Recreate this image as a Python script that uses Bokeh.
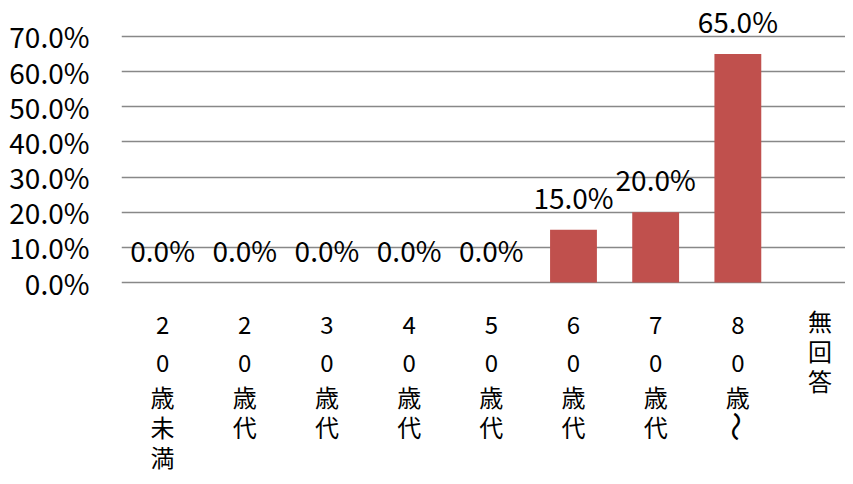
import math
from bokeh.plotting import figure
from bokeh.models import ColumnDataSource, Range1d, FixedTicker, PrintfTickFormatter
from bokeh.core.properties import value
from bokeh.embed import file_html
from bokeh.resources import INLINE

# ---- data ----
categories = ["20歳未満", "20歳代", "30歳代", "40歳代", "50歳代", "60歳代", "70歳代", "80歳〜", "無回答"]
percent = [0.0, 0.0, 0.0, 0.0, 0.0, 15.0, 20.0, 65.0, None]
y_ticks = [0, 10, 20, 30, 40, 50, 60, 70]

FONT = "Noto Sans CJK JP"
BAR_COLOR = "#C0504D"
GRID_COLOR = "#888888"

xs = [i + 0.5 for i in range(len(categories))]
tops = [v if v is not None else float("nan") for v in percent]

p = figure(width=845, height=476, output_backend="svg", toolbar_location=None,
           x_range=Range1d(0, 8.81), y_range=Range1d(-55.2, 80.24),
           min_border_left=121, min_border_right=0, min_border_top=0, min_border_bottom=0)
p.outline_line_color = None
p.background_fill_color = "white"
p.border_fill_color = "white"

p.xaxis.visible = False
p.xgrid.visible = False
p.ygrid.ticker = FixedTicker(ticks=y_ticks)
p.ygrid.grid_line_color = GRID_COLOR
p.ygrid.grid_line_width = 1.5

ax = p.yaxis[0]
ax.ticker = FixedTicker(ticks=y_ticks)
ax.formatter = PrintfTickFormatter(format="%.1f%%")
ax.axis_line_color = None
ax.major_tick_line_color = None
ax.minor_tick_line_color = None
ax.major_label_standoff = 26
ax.major_label_text_font = FONT
ax.major_label_text_font_size = "28px"
ax.major_label_text_color = "#000000"

src = ColumnDataSource(dict(x=xs, top=tops))
p.vbar(x="x", top="top", bottom=0, width=0.57, source=src,
       fill_color=BAR_COLOR, line_color=None)

# data labels
lx, ly, lt = [], [], []
for x, v in zip(xs, percent):
    if v is None:
        continue
    lx.append(x); ly.append(v); lt.append(f"{v:.1f}%")
p.text(x=lx, y=ly, text=lt, text_align="center", text_baseline="alphabetic",
       y_offset=-33, text_font=value(FONT), text_font_size="28px", text_color="#000000")

# vertical stacked category labels
cx, cy, ct, coff, cang, csz = [], [], [], [], [], []
for x, cat in zip(xs, categories):
    pos = 23.0
    for ch in cat:
        adv = 38.0 if ch.isdigit() else 30.0
        cx.append(x); cy.append(0.0); ct.append(ch)
        coff.append(pos + adv / 2.0)
        if ch == "〜":
            cang.append(-math.pi / 2); csz.append("30px")
        else:
            cang.append(0.0); csz.append("24px")
        pos += adv
csrc = ColumnDataSource(dict(x=cx, y=cy, text=ct, off=coff, ang=cang, sz=csz))
p.text(x="x", y="y", text="text", y_offset="off", angle="ang", text_font_size="sz",
       source=csrc, text_align="center", text_baseline="middle",
       text_font=value(FONT), text_color="#000000")

open("out.html", "w").write(file_html(p, INLINE))
